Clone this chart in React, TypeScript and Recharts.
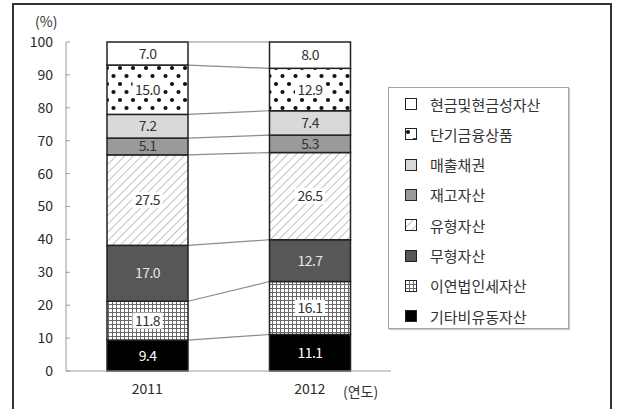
import React from 'react';
import { BarChart, Bar, XAxis, YAxis, LabelList } from 'recharts';

const years = ['2011', '2012'];
const yTicks = [0, 10, 20, 30, 40, 50, 60, 70, 80, 90, 100];

// bottom of the stack first
const seriesNames = [
  '기타비유동자산',
  '이연법인세자산',
  '무형자산',
  '유형자산',
  '재고자산',
  '매출채권',
  '단기금융상품',
  '현금및현금성자산',
];
const otherNonCurrent = [9.4, 11.1];
const deferredTax = [11.8, 16.1];
const intangible = [17.0, 12.7];
const tangible = [27.5, 26.5];
const inventory = [5.1, 5.3];
const receivables = [7.2, 7.4];
const shortTermFin = [15.0, 12.9];
const cash = [7.0, 8.0];

const seriesValues = [
  otherNonCurrent,
  deferredTax,
  intangible,
  tangible,
  inventory,
  receivables,
  shortTermFin,
  cash,
];

const STYLES = [
  { fill: '#000000', text: '#ffffff', bg: false },
  { fill: 'url(#gridPat)', text: '#333333', bg: true },
  { fill: '#575757', text: '#e6e6e6', bg: false },
  { fill: 'url(#stripePat)', text: '#333333', bg: true },
  { fill: '#9a9a9a', text: '#333333', bg: false },
  { fill: '#d9d9d9', text: '#333333', bg: false },
  { fill: 'url(#dotPat)', text: '#333333', bg: true },
  { fill: '#ffffff', text: '#333333', bg: false },
];

const data = years.map((year, i) => {
  const row: Record<string, any> = { year };
  seriesNames.forEach((name, s) => {
    row[name] = seriesValues[s][i];
  });
  return row;
});

// cumulative top of each segment per year
const cumTop = seriesValues.map((_, s) =>
  years.map((__, i) => seriesValues.slice(0, s + 1).reduce((a, v) => a + v[i], 0))
);

const CHART_W = 400;
const CHART_H = 409;
const MARGIN = { top: 42, right: 9, bottom: 8, left: 6 };
const YAXIS_W = 60;
const BAND = (CHART_W - MARGIN.left - MARGIN.right - YAXIS_W) / years.length;

const FONT = "'Noto Sans CJK KR', 'Noto Sans', sans-serif";

function makeShape(s: number) {
  return (props: any) => {
    const { x, y, width, height, index } = props;
    let link = null;
    if (index === 0 && height > 0) {
      const k = height / seriesValues[s][0];
      const yZero = y + cumTop[s][0] * k;
      const y2 = yZero - cumTop[s][1] * k;
      link = (
        <line x1={x + width} y1={y} x2={x + BAND} y2={y2} stroke="#8c8c8c" strokeWidth={1.2} />
      );
    }
    return (
      <g>
        <rect x={x} y={y} width={width} height={height} fill={STYLES[s].fill} stroke="#222" strokeWidth={1.5} />
        {link}
      </g>
    );
  };
}

function makeLabel(s: number) {
  return (props: any) => {
    const { x, y, width, height, value } = props;
    const cx = x + width / 2;
    const cy = y + height / 2;
    const txt = Number(value).toFixed(1);
    return (
      <g>
        {STYLES[s].bg && (
          <rect x={cx - 15} y={cy - 8} width={30} height={16} fill="#fff" />
        )}
        <text
          x={cx}
          y={cy}
          dy="0.36em"
          textAnchor="middle"
          fontSize={14}
          fontFamily={FONT}
          fill={STYLES[s].text}
          letterSpacing={-0.6}
        >
          {txt}
        </text>
      </g>
    );
  };
}

function Patterns() {
  return (
    <svg width={0} height={0} style={{ position: 'absolute' }}>
      <defs>
        <pattern id="dotPat" width={13} height={16} patternUnits="userSpaceOnUse">
          <rect width={13} height={16} fill="#fff" />
          <circle cx={3} cy={4} r={2.1} fill="#111" />
          <circle cx={9.5} cy={12} r={2.1} fill="#111" />
        </pattern>
        <pattern id="gridPat" width={4} height={4} patternUnits="userSpaceOnUse">
          <rect width={4} height={4} fill="#fff" />
          <path d="M0 0.5H4M0.5 0V4" stroke="#6a6a6a" strokeWidth={1} />
        </pattern>
        <pattern id="stripePat" width={6} height={6} patternUnits="userSpaceOnUse" patternTransform="rotate(45)">
          <rect width={6} height={6} fill="#fff" />
          <line x1={0} y1={0} x2={0} y2={6} stroke="#a0a0a0" strokeWidth={1.3} />
        </pattern>
      </defs>
    </svg>
  );
}

function LegendBox() {
  const order = seriesNames.map((_, i) => seriesNames.length - 1 - i);
  return (
    <div
      style={{
        position: 'absolute',
        left: 388,
        top: 87,
        width: 181,
        height: 242,
        border: '1px solid #a5a5a5',
        boxShadow: '1px 1px 1px #ccc',
        boxSizing: 'border-box',
      }}
    >
      {order.map((s, i) => (
        <div
          key={seriesNames[s]}
          style={{
            position: 'absolute',
            left: 16,
            top: 6 + i * 30.3,
            height: 20,
            display: 'flex',
            alignItems: 'center',
            fontFamily: FONT,
            fontSize: 15,
            color: '#333',
            whiteSpace: 'nowrap',
          }}
        >
          <svg width={12} height={12} style={{ marginRight: 13 }}>
            <rect x={0.5} y={0.5} width={11} height={11} fill={STYLES[s].fill} stroke="#222" strokeWidth={1} />
          </svg>
          {seriesNames[s]}
        </div>
      ))}
    </div>
  );
}

export default function App() {
  return (
    <div style={{ position: 'absolute', left: 0, top: 0, width: 620, height: 409, background: '#fff', overflow: 'hidden' }}>
      <Patterns />
      <div
        style={{
          position: 'absolute',
          left: 12,
          top: 3,
          width: 600,
          height: 430,
          border: '2px solid #333',
          boxSizing: 'border-box',
        }}
      />
      <div style={{ position: 'absolute', left: 35, top: 11, fontFamily: FONT, fontSize: 14, color: '#333' }}>(%)</div>
      <div style={{ position: 'absolute', left: 343, top: 381, fontFamily: FONT, fontSize: 14, color: '#333' }}>(연도)</div>
      <div style={{ position: 'absolute', left: 0, top: 0 }}>
        <BarChart width={CHART_W} height={CHART_H} data={data} margin={MARGIN} barSize={81}>
          <XAxis
            xAxisId="bounds"
            type="number"
            domain={[0, years.length]}
            ticks={[0, 1, 2]}
            height={0}
            tick={false}
            tickSize={-4}
            axisLine={false}
            tickLine={{ stroke: '#9a9a9a' }}
          />
          <XAxis
            dataKey="year"
            height={30}
            tickLine={false}
            tickSize={0}
            tickMargin={13}
            axisLine={{ stroke: '#9a9a9a' }}
            tick={{ fill: '#2a2a2a', fontSize: 14, fontFamily: FONT }}
          />
          <YAxis
            width={YAXIS_W}
            domain={[0, 100]}
            ticks={yTicks}
            interval={0}
            tickSize={-4}
            tickMargin={17}
            axisLine={{ stroke: '#9a9a9a' }}
            tickLine={{ stroke: '#9a9a9a' }}
            tick={{ fill: '#2a2a2a', fontSize: 14, fontFamily: FONT }}
          />
          {seriesNames.map((name, s) => (
            <Bar
              key={name}
              dataKey={name}
              stackId="a"
              isAnimationActive={false}
              shape={makeShape(s)}
            >
              <LabelList dataKey={name} content={makeLabel(s)} />
            </Bar>
          ))}
        </BarChart>
      </div>
      <LegendBox />
    </div>
  );
}
